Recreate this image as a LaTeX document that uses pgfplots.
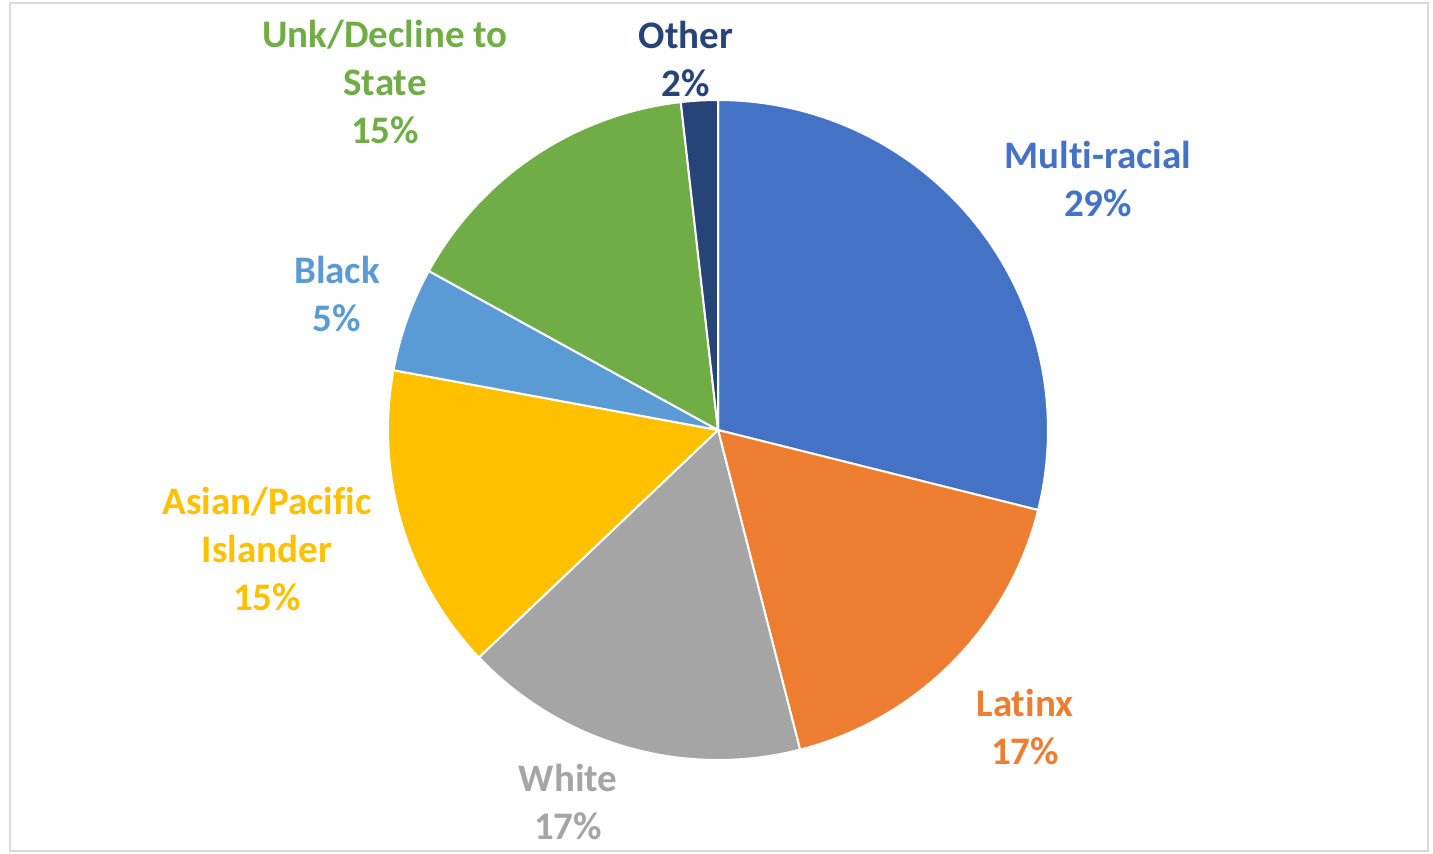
\documentclass[border=0pt]{standalone}
\usepackage{pgfplots}
\pgfplotsset{compat=1.18}
\usepackage{fontspec}
\setmainfont{Carlito}[Ligatures={NoCommon,NoContextual}]
\definecolor{cMulti}{HTML}{4472C4}
\definecolor{cLatinx}{HTML}{ED7D31}
\definecolor{cWhite}{HTML}{A5A5A5}
\definecolor{cAsian}{HTML}{FFC000}
\definecolor{cBlack}{HTML}{5B9BD5}
\definecolor{cUnk}{HTML}{70AD47}
\definecolor{cOther}{HTML}{264478}
\definecolor{cFrame}{HTML}{D9D9D9}
\begin{document}
\begin{tikzpicture}
\begin{axis}[
  width=716.5pt, height=426.5pt, scale only axis,
  xmin=0, xmax=1433, ymin=0, ymax=853,
  hide axis, clip=false,
]
\path (axis cs:0,0) rectangle (axis cs:1433,853);
\draw[cFrame, line width=1pt] (axis cs:10,2) rectangle (axis cs:1428,850);
% slices: domain = cumulative percent (start:end), clockwise from top
% Multi-racial 28.9, Latinx 17.1, White 16.9, Asian/PI 15.0, Black 5.1, Unk 15.2, Other 1.8
\addplot[fill=cMulti, draw=white, line width=1pt, domain=0:28.9, samples=80]
  ({718+330*sin(3.6*x)}, {423+330*cos(3.6*x)}) -- (axis cs:718,423) -- cycle;
\addplot[fill=cLatinx, draw=white, line width=1pt, domain=28.9:46.0, samples=60]
  ({718+330*sin(3.6*x)}, {423+330*cos(3.6*x)}) -- (axis cs:718,423) -- cycle;
\addplot[fill=cWhite, draw=white, line width=1pt, domain=46.0:62.9, samples=60]
  ({718+330*sin(3.6*x)}, {423+330*cos(3.6*x)}) -- (axis cs:718,423) -- cycle;
\addplot[fill=cAsian, draw=white, line width=1pt, domain=62.9:77.9, samples=60]
  ({718+330*sin(3.6*x)}, {423+330*cos(3.6*x)}) -- (axis cs:718,423) -- cycle;
\addplot[fill=cBlack, draw=white, line width=1pt, domain=77.9:83.0, samples=30]
  ({718+330*sin(3.6*x)}, {423+330*cos(3.6*x)}) -- (axis cs:718,423) -- cycle;
\addplot[fill=cUnk, draw=white, line width=1pt, domain=83.0:98.2, samples=60]
  ({718+330*sin(3.6*x)}, {423+330*cos(3.6*x)}) -- (axis cs:718,423) -- cycle;
\addplot[fill=cOther, draw=white, line width=1pt, domain=98.2:100, samples=15]
  ({718+330*sin(3.6*x)}, {423+330*cos(3.6*x)}) -- (axis cs:718,423) -- cycle;
% labels
\tikzset{lab/.style={align=center, inner sep=0pt, font=\fontsize{19.5}{24}\selectfont\bfseries}}
\node[lab, text=cMulti]  at (axis cs:1098,674) {Multi-racial\\29\%};
\node[lab, text=cLatinx] at (axis cs:1025,126.5) {Latinx\\17\%};
\node[lab, text=cWhite]  at (axis cs:568,51) {White\\17\%};
\node[lab, text=cAsian]  at (axis cs:267,304) {Asian/Pacific\\Islander\\15\%};
\node[lab, text=cBlack]  at (axis cs:337,559) {Black\\5\%};
\node[lab, text=cUnk]    at (axis cs:385,771) {Unk/Decline to\\State\\15\%};
\node[lab, text=cOther]  at (axis cs:686,794.5) {Other\\2\%};
\end{axis}
\end{tikzpicture}
\end{document}
